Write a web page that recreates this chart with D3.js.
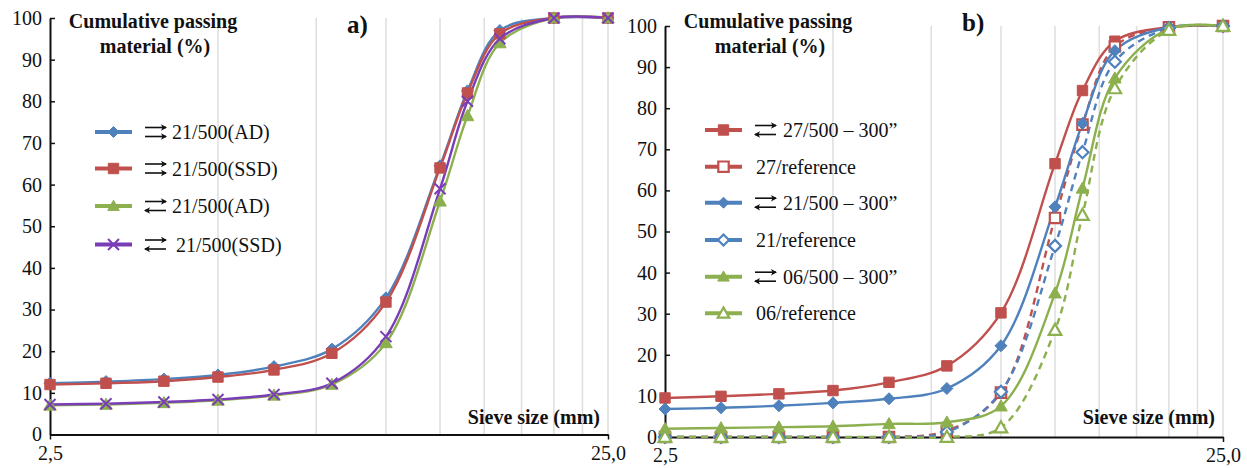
<!DOCTYPE html>
<html><head><meta charset="utf-8">
<script src="https://cdn.jsdelivr.net/npm/d3@7"></script>
<style>
body{margin:0;background:#fff}
svg{display:block}
text{font-family:"Liberation Serif","Times New Roman",serif;fill:#111}
</style>
</head><body>
<svg id="c" width="1247" height="468"></svg>
<script>
// ---------- data ----------
const sieveSizes = [2.5, 3.15, 4, 5, 6.3, 8, 10, 12.5, 14, 16, 20, 25];
const gridValues = [5, 7.5, 10, 12.5, 15, 17.5, 20, 22.5, 25];
const yTickValues = [0, 10, 20, 30, 40, 50, 60, 70, 80, 90, 100];
const xTickValues = [2.5, 25];
const xTickLabels = ["2,5", "25,0"];

// panel a
const a_21_500_AD_same   = [12.3, 12.7, 13.3, 14.3, 16.3, 20.5, 32.8, 64.5, 82.5, 97.0, 100, 100];
const a_21_500_SSD_same  = [12.0, 12.3, 12.8, 13.8, 15.5, 19.5, 31.8, 64.0, 82.0, 96.2, 100, 100];
const a_21_500_AD_rev    = [7.0, 7.2, 7.6, 8.2, 9.4, 12.0, 22.0, 56.0, 76.5, 94.0, 100, 100];
const a_21_500_SSD_rev   = [7.2, 7.4, 7.8, 8.4, 9.6, 12.3, 23.5, 59.0, 80.0, 95.0, 100, 100];
const a_labels = ["21/500(AD)", "21/500(SSD)", "21/500(AD)", "21/500(SSD)"];

// panel b
const b_27_500 = [9.5, 9.9, 10.5, 11.3, 13.3, 17.3, 30.2, 66.5, 84.3, 96.3, 99.7, 100];
const b_27_ref = [0, 0, 0, 0, 0, 1.5, 10.8, 53.3, 76.0, 95.0, 99.7, 100];
const b_21_500 = [6.8, 7.1, 7.6, 8.3, 9.3, 11.8, 22.2, 56.0, 76.3, 94.0, 99.7, 100];
const b_21_ref = [0, 0, 0, 0, 0, 1.2, 11.0, 46.5, 69.3, 91.3, 99.5, 100];
const b_06_500 = [2.0, 2.2, 2.4, 2.6, 3.2, 3.6, 7.5, 35.0, 60.5, 87.3, 99.3, 100];
const b_06_ref = [0, 0, 0, 0, 0, 0, 2.3, 26.0, 54.0, 84.8, 99.0, 100];
const b_labels = ["27/500 \u2013 300\u201D", "27/reference", "21/500 \u2013 300\u201D", "21/reference", "06/500 \u2013 300\u201D", "06/reference"];

const yTitle = ["Cumulative passing", "material (%)"];
const xTitle = "Sieve size (mm)";
const panelLetters = ["a)", "b)"];

// ---------- styles ----------
const C = {blue:"#4f81bd", red:"#c0504d", green:"#8db04f", purple:"#7a3db8"};

const panelA = {
  x0:50, x1:608, y0:434.5, y100:18,
  letter:{x:347, y:33}, title:{x:153, y:28}, xt:{x:600, y:424},
  legend:{lineX:[95,132], arrowX:145, textX:172, rows:[132,168.5,206,244.5]},
  series:[
    {v:a_21_500_AD_same, c:C.blue, m:"diamond", fill:true, dash:false, arrows:"same", label:a_labels[0]},
    {v:a_21_500_SSD_same, c:C.red, m:"square", fill:true, dash:false, arrows:"same", label:a_labels[1]},
    {v:a_21_500_AD_rev, c:C.green, m:"triangle", fill:true, dash:false, arrows:"rev", label:a_labels[2]},
    {v:a_21_500_SSD_rev, c:C.purple, m:"x", fill:true, dash:false, arrows:"rev", label:a_labels[3], textShift:4}
  ]
};
const panelB = {
  x0:665, x1:1223, y0:437, y100:26,
  letter:{x:962, y:31}, title:{x:768, y:28}, xt:{x:1215, y:424},
  legend:{lineX:[705,742], arrowX:755, textX:783, refTextX:756, rows:[130,166.7,202.7,240,276.7,313.3]},
  series:[
    {v:b_27_500, c:C.red, m:"square", fill:true, dash:false, arrows:"rev", label:b_labels[0]},
    {v:b_27_ref, c:C.red, m:"square", fill:false, dash:true, arrows:null, label:b_labels[1]},
    {v:b_21_500, c:C.blue, m:"diamond", fill:true, dash:false, arrows:"rev", label:b_labels[2]},
    {v:b_21_ref, c:C.blue, m:"diamond", fill:false, dash:true, arrows:null, label:b_labels[3]},
    {v:b_06_500, c:C.green, m:"triangle", fill:true, dash:false, arrows:"rev", label:b_labels[4]},
    {v:b_06_ref, c:C.green, m:"triangle", fill:false, dash:true, arrows:null, label:b_labels[5]}
  ]
};

const svg = d3.select("#c");

function markerPath(type, s){
  switch(type){
    case "diamond": return `M0,${-s}L${s},0L0,${s}L${-s},0Z`;
    case "square": return `M${-s},${-s}H${s}V${s}H${-s}Z`;
    case "triangle": return `M0,${-s*1.05}L${s*1.05},${s*0.8}L${-s*1.05},${s*0.8}Z`;
    case "x": return `M${-s},${-s}L${s},${s}M${s},${-s}L${-s},${s}`;
  }
}
function drawMarker(g, type, color, filled, x, y, s){
  const p = g.append("path").attr("d", markerPath(type, s)).attr("transform", `translate(${x},${y})`);
  if(type === "x"){
    p.attr("fill","none").attr("stroke",color).attr("stroke-width",2);
  } else if(filled){
    p.attr("fill",color).attr("stroke",color).attr("stroke-width",1);
  } else {
    p.attr("fill","#fff").attr("stroke",color).attr("stroke-width",2.2);
  }
}
function drawArrows(g, x, y, kind){
  const len = 21, ah = 6, aw = 3.2;
  const lines = [{yy:y-4.5, dir:1}, {yy:y+4.5, dir: kind==="same" ? 1 : -1}];
  lines.forEach(l=>{
    const xs = x, xe = x+len;
    g.append("line").attr("x1",xs).attr("x2",xe).attr("y1",l.yy).attr("y2",l.yy)
      .attr("stroke","#111").attr("stroke-width",1.6);
    const tip = l.dir===1 ? xe+1 : xs-1;
    const back = tip - l.dir*ah;
    g.append("path").attr("d",`M${tip},${l.yy}L${back},${l.yy-aw}L${back+l.dir*1.5},${l.yy}L${back},${l.yy+aw}Z`)
      .attr("fill","#111");
  });
}

function drawPanel(P){
  const g = svg.append("g");
  const x = d3.scaleLog().domain([2.5, 25]).range([P.x0, P.x1]);
  const y = d3.scaleLinear().domain([0, 100]).range([P.y0, P.y100]);

  // gridlines
  g.append("g").selectAll("line").data(gridValues).join("line")
    .attr("x1", d=>x(d)).attr("x2", d=>x(d)).attr("y1", y(0)).attr("y2", y(100))
    .attr("stroke","#dedede").attr("stroke-width",1.5);

  // y axis
  const ya = g.append("g").attr("transform",`translate(${P.x0},0)`)
    .call(d3.axisLeft(y).tickValues(yTickValues).tickSizeInner(-5).tickSizeOuter(0).tickPadding(8));
  ya.select(".domain").attr("stroke","#111").attr("stroke-width",2);
  ya.selectAll(".tick line").attr("stroke","#111").attr("stroke-width",1.5);
  ya.selectAll(".tick text").attr("font-size",20).attr("font-family","Liberation Serif").attr("fill","#111");

  // x axis
  const xa = g.append("g").attr("transform",`translate(0,${P.y0})`)
    .call(d3.axisBottom(x).tickValues(xTickValues).tickFormat((d,i)=>xTickLabels[i]).tickSizeInner(5).tickSizeOuter(0).tickPadding(6));
  xa.select(".domain").attr("stroke","#111").attr("stroke-width",2);
  xa.selectAll(".tick line").attr("stroke","#111").attr("stroke-width",1.5);
  xa.selectAll(".tick text").attr("font-size",20).attr("font-family","Liberation Serif").attr("fill","#111");

  // lines
  const line = d3.line().x((d,i)=>x(sieveSizes[i])).y(d=>y(d)).curve(d3.curveCatmullRom.alpha(0.5));
  P.series.forEach(s=>{
    g.append("path").attr("d", line(s.v)).attr("fill","none").attr("stroke", s.c)
      .attr("stroke-width", 2.4).attr("stroke-dasharray", s.dash ? "7,5" : null);
  });
  P.series.forEach(s=>{
    s.v.forEach((v,i)=> drawMarker(g, s.m, s.c, s.fill, x(sieveSizes[i]), y(v), s.m==="square"?5.2:(s.m==="x"?5.5:6)));
  });

  // titles
  g.append("text").attr("x",P.title.x).attr("y",P.title.y).attr("text-anchor","middle")
    .attr("font-size",20).attr("font-weight","bold").text(yTitle[0]);
  g.append("text").attr("x",P.title.x+2).attr("y",P.title.y+25).attr("text-anchor","middle")
    .attr("font-size",20).attr("font-weight","bold").text(yTitle[1]);
  g.append("text").attr("x",P.xt.x).attr("y",P.xt.y).attr("text-anchor","end")
    .attr("font-size",20).attr("font-weight","bold").text(xTitle);
  g.append("text").attr("x",P.letter.x).attr("y",P.letter.y)
    .attr("font-size",25).attr("font-weight","bold").text(P===panelA?panelLetters[0]:panelLetters[1]);

  // legend
  const L = P.legend;
  P.series.forEach((s,i)=>{
    const ry = L.rows[i];
    g.append("line").attr("x1",L.lineX[0]).attr("x2",L.lineX[1]).attr("y1",ry).attr("y2",ry)
      .attr("stroke",s.c).attr("stroke-width",4);
    drawMarker(g, s.m, s.c, s.fill, (L.lineX[0]+L.lineX[1])/2, ry, s.m==="square"?5.2:(s.m==="x"?5.5:5.5));
    let tx = L.refTextX !== undefined && !s.arrows ? L.refTextX : L.textX;
    if(s.arrows) drawArrows(g, L.arrowX, ry, s.arrows);
    g.append("text").attr("x", tx + (s.textShift||0)).attr("y", ry).attr("dy","0.35em")
      .attr("font-size",20).text(s.label);
  });
}
drawPanel(panelA);
drawPanel(panelB);
</script>
</body></html>
